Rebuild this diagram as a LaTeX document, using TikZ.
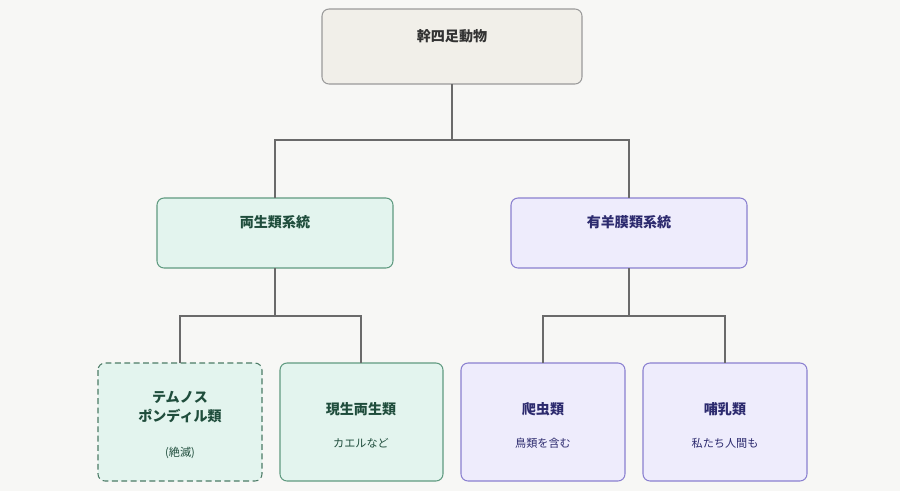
\documentclass[tikz,border=0pt]{standalone}
\usepackage{fontspec}
\setmainfont{Noto Sans CJK JP}
\begin{document}
\begin{tikzpicture}[x=0.03cm,y=-0.03cm,
 box/.style={draw,line width=0.9pt,rounded corners=6pt},
 gbox/.style={box,fill=gfill,draw=gline},
 pbox/.style={box,fill=pfill,draw=pline},
 conn/.style={draw=lineC,line width=0.9pt},
 tt/.style={font=\bfseries\fontsize{12}{15.5}\selectfont,align=center},
 st/.style={font=\fontsize{9.5}{12}\selectfont}]
\definecolor{bg}{HTML}{F7F7F5}
\definecolor{gfill}{HTML}{E3F4EE}
\definecolor{gline}{HTML}{5F9A80}
\definecolor{gtext}{HTML}{1F4D3C}
\definecolor{pfill}{HTML}{EEECFC}
\definecolor{pline}{HTML}{8A80D0}
\definecolor{ptext}{HTML}{2C2A6E}
\definecolor{rfill}{HTML}{F1EFE9}
\definecolor{rline}{HTML}{9A9A9A}
\definecolor{lineC}{HTML}{6A6A6A}
\fill[bg] (0,0) rectangle (900,491);
\useasboundingbox (0,0) rectangle (900,491);
% boxes
\draw[box,fill=rfill,draw=rline] (322,9) rectangle (582,84);
\node[tt,text=black!80] (root) at (452,36) {幹四足動物};
\draw[gbox] (157,198) rectangle (393,268);
\node[tt,text=gtext] (amph) at (275,222) {両生類系統};
\draw[pbox] (511,198) rectangle (747,268);
\node[tt,text=ptext] (amni) at (629,222) {有羊膜類系統};
\draw[gbox,draw=gline!80!black,dash pattern=on 5pt off 3pt] (98,363) rectangle (262,481);
\node[tt,text=gtext] (temn) at (180,407) {テムノス\\ポンディル類};
\node[st,text=gtext] (temns) at (180,453) {(絶滅)};
\draw[gbox] (280,363) rectangle (443,481);
\node[tt,text=gtext] (liss) at (361,409) {現生両生類};
\node[st,text=gtext] (lisss) at (361,443) {カエルなど};
\draw[pbox] (461,363) rectangle (625,481);
\node[tt,text=ptext] (rept) at (543,409) {爬虫類};
\node[st,text=ptext] (repts) at (543,443) {鳥類を含む};
\draw[pbox] (643,363) rectangle (807,481);
\node[tt,text=ptext] (mamm) at (725,409) {哺乳類};
\node[st,text=ptext] (mamms) at (725,443) {私たち人間も};
% connectors
\coordinate (r0) at (452,84); \coordinate (r1) at (452,140);
\coordinate (a0) at (275,198); \coordinate (b0) at (629,198);
\draw[conn] (r0) -- (r1);
\draw[conn] (a0) |- (r1) -| (b0);
\coordinate (a1) at (275,268); \coordinate (a2) at (275,316);
\draw[conn] (a1) -- (a2);
\draw[conn] (180,363) |- (a2) -| (361,363);
\coordinate (b1) at (629,268); \coordinate (b2) at (629,316);
\draw[conn] (b1) -- (b2);
\draw[conn] (543,363) |- (b2) -| (725,363);
\end{tikzpicture}
\end{document}
